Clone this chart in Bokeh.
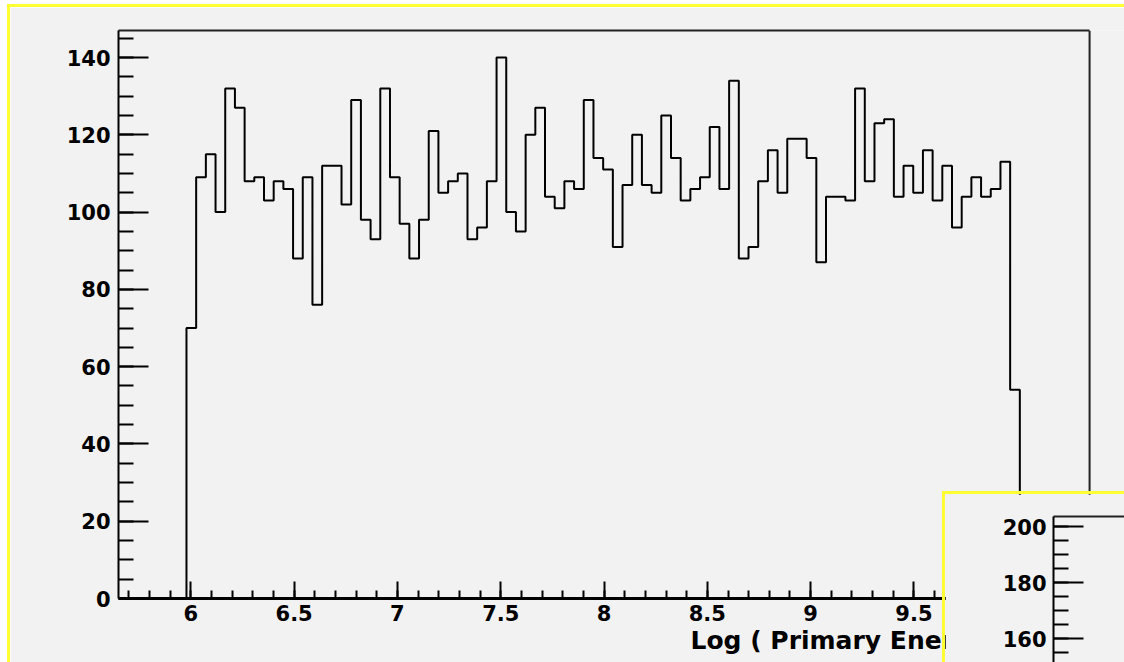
import numpy as np
from bokeh.plotting import figure
from bokeh.layouts import column
from bokeh.models import (Range1d, SingleIntervalTicker, NumeralTickFormatter, Title,
                          LinearAxis, FixedTicker, Span)
from bokeh.embed import file_html
from bokeh.resources import INLINE

# ---- data ----
counts = [70, 109, 115, 100, 132, 127, 108, 109, 103, 108, 106, 88, 109, 76,
          112, 112, 102, 129, 98, 93, 132, 109, 97, 88, 98, 121, 105, 108, 110,
          93, 96, 108, 140, 100, 95, 120, 127, 104, 101, 108, 106, 129, 114, 111,
          91, 107, 120, 107, 105, 125, 114, 103, 106, 109, 122, 106, 134, 88,
          91, 108, 116, 105, 119, 119, 114, 87, 104, 104, 103, 132, 108, 123,
          124, 104, 112, 105, 116, 103, 112, 96, 104, 109, 104, 106, 113, 54]
bin_lo = 5.979
bin_width = 0.0469
x_label = "Log ( Primary Energy / GeV )"
x_min, x_max = 5.65, 10.35      # histogram frame limits
y_max = 147
inset_y = (150.5, 203.6)        # visible part of the second canvas' axis

BG = "#f2f2f2"
YEL = "#ffff33"
FONT = "DejaVu Sans"

edges = bin_lo + bin_width * np.arange(len(counts) + 1)
xs = np.repeat(edges, 2)
ys = np.concatenate([[0], np.repeat(counts, 2), [0]])

# ---- main histogram ----
# the plotting area continues under the overlapping canvas, the frame box is drawn at x_max
p = figure(width=1114, height=655, x_range=Range1d(x_min, 10.519), y_range=Range1d(0, y_max),
           output_backend="svg", toolbar_location=None,
           min_border_left=108, min_border_right=0, min_border_top=23, min_border_bottom=64,
           background_fill_color=BG, border_fill_color=BG)
p.grid.visible = False
p.outline_line_color = None
p.line(xs, ys, line_color="black", line_width=2)

for ax in (p.xaxis[0], p.yaxis[0]):
    ax.axis_line_color = "black"
    ax.axis_line_width = 2
    ax.major_tick_line_color = "black"
    ax.major_tick_line_width = 2
    ax.minor_tick_line_color = "black"
    ax.minor_tick_line_width = 2
    ax.major_tick_out = 0
    ax.minor_tick_out = 0
    ax.major_label_text_font = FONT
    ax.major_label_text_font_style = "bold"
    ax.major_label_text_font_size = "21px"
    ax.major_label_text_color = "black"

p.xaxis.axis_line_width = 3
p.xaxis.ticker = SingleIntervalTicker(interval=0.5, num_minor_ticks=5)
p.yaxis.ticker = SingleIntervalTicker(interval=20, num_minor_ticks=4)
p.xaxis.formatter = NumeralTickFormatter(format="0.[0]")
p.xaxis.major_tick_in = 17
p.xaxis.minor_tick_in = 8
p.yaxis.major_tick_in = 30
p.yaxis.minor_tick_in = 15
p.xaxis.major_label_standoff = 6
p.yaxis.major_label_standoff = 8

# frame box: top line and right line
p.add_layout(LinearAxis(ticker=FixedTicker(ticks=[]), bounds=(x_min, x_max),
                        axis_line_color="#222222", axis_line_width=2,
                        major_tick_line_color=None, minor_tick_line_color=None), "above")
p.add_layout(Span(location=x_max, dimension="height", line_color="#222222", line_width=2))

# x-axis title, right part hidden under the overlapping canvas as in the reference
p.add_layout(Title(text=x_label, align="left", offset=572, standoff=0,
                   text_font=FONT, text_font_style="bold", text_font_size="25px",
                   text_color="black"), "below")
p.styles = {"position": "relative", "z-index": "0"}

# ---- overlapping second canvas (only its top-left corner is visible) ----
inset = figure(width=182, height=171, x_range=Range1d(0, 1), y_range=Range1d(*inset_y),
               output_backend="svg", toolbar_location=None, x_axis_location=None,
               min_border_left=108, min_border_top=22, min_border_right=0, min_border_bottom=0,
               background_fill_color=BG, border_fill_color=BG)
inset.grid.visible = False
inset.outline_line_color = None
yax = inset.yaxis[0]
yax.ticker = SingleIntervalTicker(interval=20, num_minor_ticks=4)
yax.axis_line_color = "black"
yax.axis_line_width = 2
yax.major_tick_line_color = "black"
yax.major_tick_line_width = 2
yax.minor_tick_line_color = "black"
yax.minor_tick_line_width = 2
yax.major_tick_out = 0
yax.minor_tick_out = 0
yax.major_tick_in = 30
yax.minor_tick_in = 15
yax.major_label_standoff = 7
yax.major_label_text_font = FONT
yax.major_label_text_font_style = "bold"
yax.major_label_text_font_size = "21px"
yax.major_label_text_color = "black"
inset.add_layout(LinearAxis(ticker=FixedTicker(ticks=[]), axis_line_color="#222222",
                            axis_line_width=2, major_tick_line_color=None,
                            minor_tick_line_color=None), "above")
inset.styles = {"border-left": f"3px solid {YEL}", "border-top": f"3px solid {YEL}",
                "position": "relative", "z-index": "5"}
inset.margin = (-171, 0, 0, 932)

layout = column(p, inset, margin=(4, 0, 0, 7),
                styles={"border-left": f"3px solid {YEL}", "border-top": f"3px solid {YEL}"})

open("out.html", "w").write(file_html(layout, INLINE))
